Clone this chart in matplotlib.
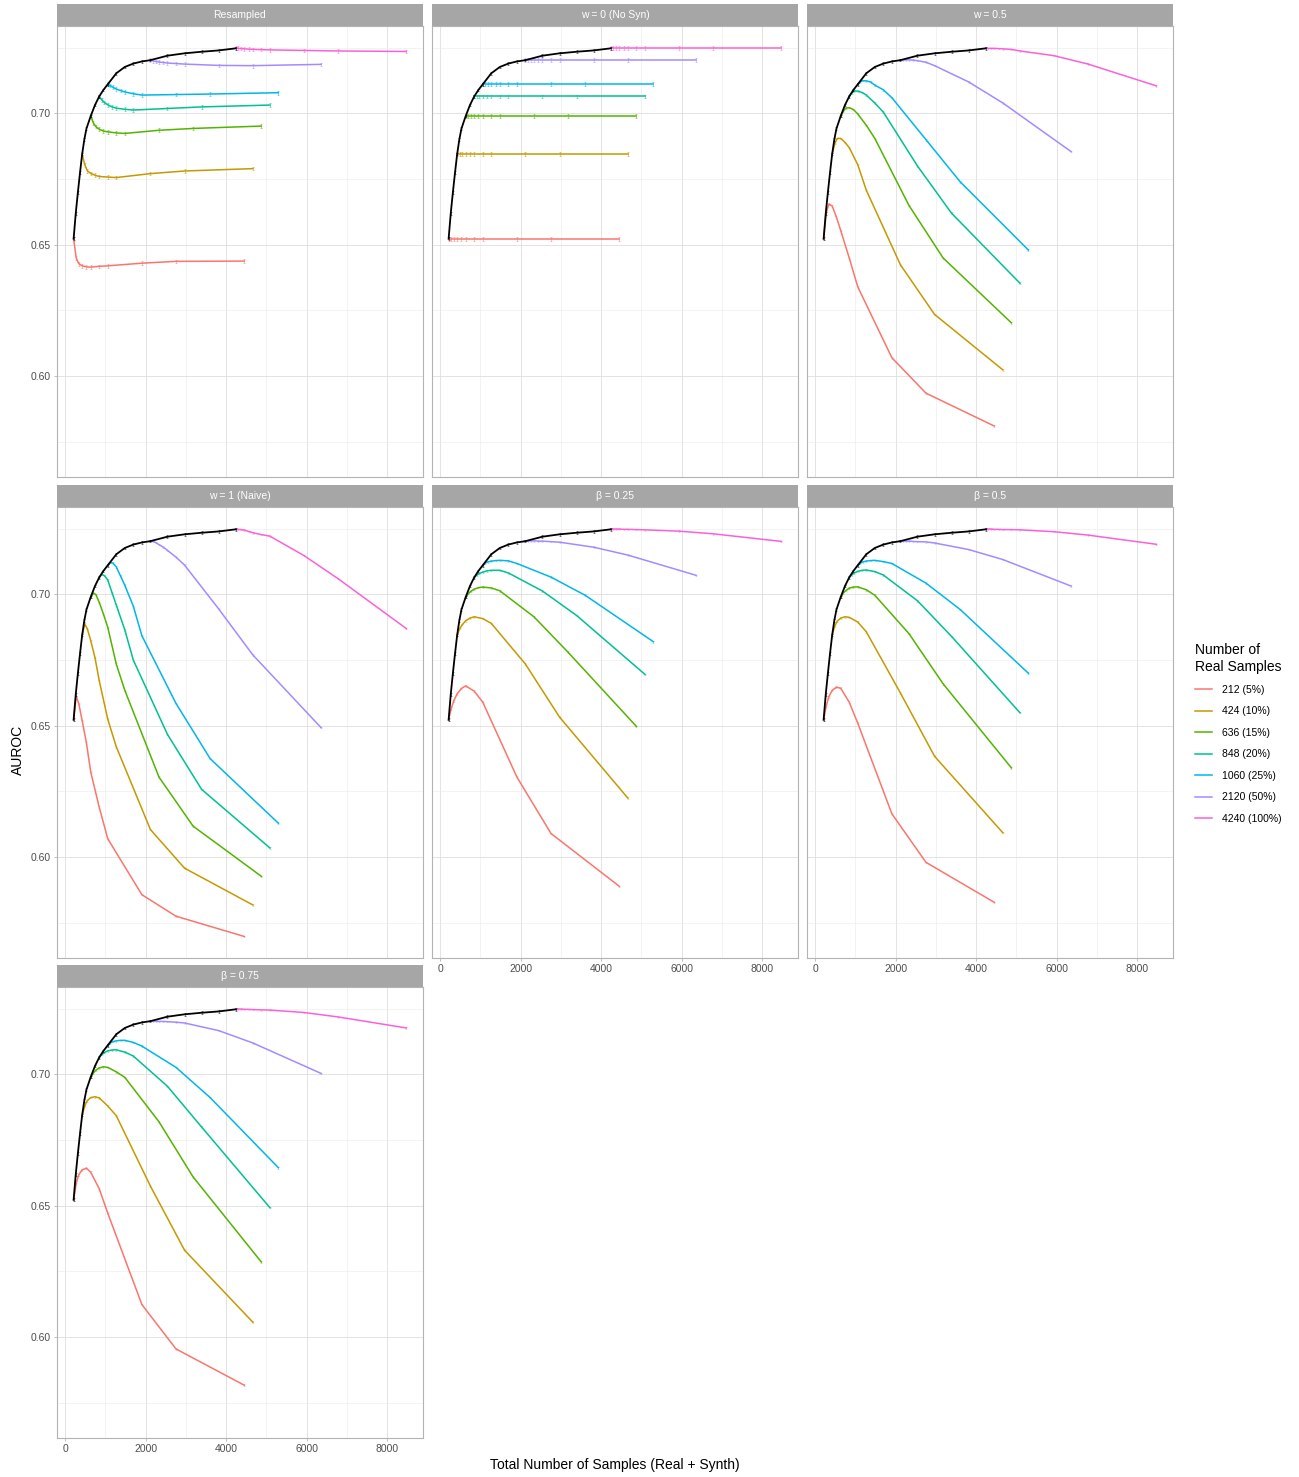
import matplotlib
matplotlib.use("Agg")
import matplotlib.pyplot as plt
from matplotlib.lines import Line2D

plt.rcParams["font.family"] = ["Liberation Sans", "DejaVu Sans"]

# real-sample sizes (one coloured curve each) and legend labels
REAL_N = [212, 424, 636, 848, 1060, 2120, 4240]
LEGEND_LABELS = ["212 (5%)", "424 (10%)", "636 (15%)", "848 (20%)",
                 "1060 (25%)", "2120 (50%)", "4240 (100%)"]
COLORS = ["#F8766D", "#C49A00", "#53B400", "#00C094", "#00B6EB", "#A58AFF", "#FB61D7"]

# synthetic samples added on top of the real ones
SYNTH_N = [0, 64, 127, 212, 318, 424, 636, 848, 1696, 2544, 4240]

# real-only baseline (black curve)
BASE_N = [212, 265, 318, 371, 424, 477, 530, 636, 742, 848, 954, 1060, 1272, 1484,
          1696, 1908, 2120, 2544, 2968, 3392, 3816, 4240]
BASE_AUC = [0.6523, 0.6620, 0.6700, 0.6775, 0.6845, 0.6900, 0.6942, 0.6990, 0.7032,
            0.7065, 0.7090, 0.7111, 0.7153, 0.7177, 0.7190, 0.7198, 0.7203, 0.7220,
            0.7229, 0.7235, 0.7240, 0.7248]

PANEL_TITLES = ["Resampled", "w = 0 (No Syn)", "w = 0.5", "w = 1 (Naive)",
                "β = 0.25", "β = 0.5", "β = 0.75"]

AUC_RESAMPLED = [
    [0.6523, 0.6450, 0.6428, 0.6420, 0.6416, 0.6415, 0.6418, 0.6420, 0.6430, 0.6437, 0.6438],
    [0.6845, 0.6805, 0.6782, 0.6772, 0.6765, 0.6760, 0.6758, 0.6756, 0.6771, 0.6781, 0.6790],
    [0.6990, 0.6965, 0.6950, 0.6940, 0.6933, 0.6930, 0.6926, 0.6924, 0.6936, 0.6943, 0.6952],
    [0.7065, 0.7052, 0.7042, 0.7033, 0.7025, 0.7020, 0.7016, 0.7013, 0.7019, 0.7025, 0.7032],
    [0.7111, 0.7106, 0.7100, 0.7093, 0.7087, 0.7082, 0.7075, 0.7070, 0.7072, 0.7074, 0.7079],
    [0.7203, 0.7200, 0.7198, 0.7196, 0.7194, 0.7192, 0.7190, 0.7188, 0.7183, 0.7182, 0.7187],
    [0.7248, 0.7248, 0.7247, 0.7246, 0.7245, 0.7244, 0.7243, 0.7242, 0.7240, 0.7238, 0.7236],
]
AUC_W0 = [
    [0.6523, 0.6523, 0.6523, 0.6523, 0.6523, 0.6523, 0.6523, 0.6523, 0.6523, 0.6523, 0.6523],
    [0.6845, 0.6845, 0.6845, 0.6845, 0.6845, 0.6845, 0.6845, 0.6845, 0.6845, 0.6845, 0.6845],
    [0.6990, 0.6990, 0.6990, 0.6990, 0.6990, 0.6990, 0.6990, 0.6990, 0.6990, 0.6990, 0.6990],
    [0.7065, 0.7065, 0.7065, 0.7065, 0.7065, 0.7065, 0.7065, 0.7065, 0.7065, 0.7065, 0.7065],
    [0.7111, 0.7111, 0.7111, 0.7111, 0.7111, 0.7111, 0.7111, 0.7111, 0.7111, 0.7111, 0.7111],
    [0.7203, 0.7203, 0.7203, 0.7203, 0.7203, 0.7203, 0.7203, 0.7203, 0.7203, 0.7203, 0.7203],
    [0.7248, 0.7248, 0.7248, 0.7248, 0.7248, 0.7248, 0.7248, 0.7248, 0.7248, 0.7248, 0.7248],
]
AUC_W05 = [
    [0.6523, 0.6620, 0.6655, 0.6648, 0.6605, 0.6555, 0.6450, 0.6340, 0.6070, 0.5935, 0.5810],
    [0.6845, 0.6885, 0.6905, 0.6905, 0.6890, 0.6870, 0.6805, 0.6708, 0.6424, 0.6235, 0.6024],
    [0.6990, 0.7008, 0.7020, 0.7022, 0.7015, 0.6998, 0.6955, 0.6905, 0.6650, 0.6450, 0.6203],
    [0.7065, 0.7078, 0.7086, 0.7085, 0.7080, 0.7070, 0.7040, 0.7005, 0.6800, 0.6620, 0.6354],
    [0.7111, 0.7120, 0.7125, 0.7124, 0.7120, 0.7108, 0.7090, 0.7060, 0.6900, 0.6740, 0.6480],
    [0.7203, 0.7204, 0.7204, 0.7204, 0.7203, 0.7201, 0.7195, 0.7182, 0.7120, 0.7040, 0.6855],
    [0.7248, 0.7248, 0.7248, 0.7248, 0.7247, 0.7246, 0.7244, 0.7238, 0.7220, 0.7188, 0.7105],
]
AUC_W1 = [
    [0.6523, 0.6612, 0.6585, 0.6520, 0.6435, 0.6325, 0.6190, 0.6070, 0.5857, 0.5775, 0.5698],
    [0.6845, 0.6887, 0.6870, 0.6825, 0.6760, 0.6672, 0.6525, 0.6420, 0.6105, 0.5958, 0.5818],
    [0.6990, 0.7005, 0.7000, 0.6970, 0.6925, 0.6875, 0.6735, 0.6635, 0.6305, 0.6118, 0.5927],
    [0.7065, 0.7076, 0.7072, 0.7055, 0.7007, 0.6960, 0.6865, 0.6750, 0.6467, 0.6258, 0.6035],
    [0.7111, 0.7121, 0.7120, 0.7105, 0.7070, 0.7035, 0.6955, 0.6843, 0.6585, 0.6375, 0.6129],
    [0.7203, 0.7202, 0.7198, 0.7190, 0.7180, 0.7168, 0.7142, 0.7112, 0.6945, 0.6770, 0.6493],
    [0.7248, 0.7248, 0.7247, 0.7245, 0.7240, 0.7235, 0.7228, 0.7222, 0.7148, 0.7060, 0.6870],
]
AUC_B025 = [
    [0.6523, 0.6565, 0.6595, 0.6622, 0.6642, 0.6652, 0.6632, 0.6590, 0.6305, 0.6090, 0.5889],
    [0.6845, 0.6870, 0.6885, 0.6900, 0.6910, 0.6915, 0.6908, 0.6890, 0.6735, 0.6533, 0.6225],
    [0.6990, 0.7003, 0.7012, 0.7020, 0.7026, 0.7028, 0.7025, 0.7014, 0.6915, 0.6780, 0.6498],
    [0.7065, 0.7074, 0.7080, 0.7085, 0.7090, 0.7092, 0.7092, 0.7082, 0.7013, 0.6920, 0.6696],
    [0.7111, 0.7120, 0.7124, 0.7127, 0.7129, 0.7130, 0.7128, 0.7118, 0.7066, 0.6997, 0.6820],
    [0.7203, 0.7204, 0.7204, 0.7204, 0.7203, 0.7203, 0.7201, 0.7199, 0.7180, 0.7150, 0.7073],
    [0.7248, 0.7249, 0.7249, 0.7249, 0.7248, 0.7248, 0.7247, 0.7246, 0.7241, 0.7231, 0.7202],
]
AUC_B05 = [
    [0.6523, 0.6575, 0.6610, 0.6635, 0.6647, 0.6643, 0.6590, 0.6510, 0.6165, 0.5980, 0.5828],
    [0.6845, 0.6880, 0.6898, 0.6910, 0.6915, 0.6913, 0.6895, 0.6858, 0.6625, 0.6384, 0.6093],
    [0.6990, 0.7005, 0.7015, 0.7024, 0.7028, 0.7029, 0.7018, 0.6997, 0.6851, 0.6660, 0.6340],
    [0.7065, 0.7075, 0.7082, 0.7088, 0.7092, 0.7093, 0.7087, 0.7074, 0.6976, 0.6840, 0.6550],
    [0.7111, 0.7119, 0.7124, 0.7127, 0.7129, 0.7130, 0.7125, 0.7118, 0.7043, 0.6943, 0.6700],
    [0.7203, 0.7203, 0.7203, 0.7203, 0.7202, 0.7201, 0.7200, 0.7196, 0.7171, 0.7133, 0.7032],
    [0.7248, 0.7249, 0.7249, 0.7248, 0.7248, 0.7247, 0.7247, 0.7246, 0.7239, 0.7226, 0.7191],
]
AUC_B075 = [
    [0.6523, 0.6585, 0.6618, 0.6637, 0.6643, 0.6628, 0.6565, 0.6472, 0.6124, 0.5955, 0.5817],
    [0.6845, 0.6880, 0.6900, 0.6912, 0.6915, 0.6911, 0.6880, 0.6843, 0.6575, 0.6331, 0.6057],
    [0.6990, 0.7005, 0.7016, 0.7025, 0.7029, 0.7027, 0.7010, 0.6989, 0.6820, 0.6610, 0.6286],
    [0.7065, 0.7076, 0.7083, 0.7090, 0.7093, 0.7094, 0.7085, 0.7070, 0.6955, 0.6800, 0.6493],
    [0.7111, 0.7120, 0.7125, 0.7128, 0.7130, 0.7130, 0.7122, 0.7108, 0.7027, 0.6912, 0.6645],
    [0.7203, 0.7203, 0.7203, 0.7202, 0.7202, 0.7201, 0.7199, 0.7196, 0.7167, 0.7120, 0.7004],
    [0.7248, 0.7249, 0.7249, 0.7248, 0.7248, 0.7247, 0.7246, 0.7245, 0.7236, 0.7219, 0.7177],
]
PANEL_AUC = [AUC_RESAMPLED, AUC_W0, AUC_W05, AUC_W1, AUC_B025, AUC_B05, AUC_B075]

# half-width of the error bars per panel
PANEL_ERR = [0.0007, 0.0007, 0.0003, 0.0003, 0.0003, 0.0003, 0.0003]

X_TICKS = [0, 2000, 4000, 6000, 8000]
Y_TICKS = [0.60, 0.65, 0.70]

# layout in pixels
W, H = 1299, 1477
COL_LEFT = [57, 432, 807]
ROW_TOP = [26, 507, 987]
PANEL_W, PANEL_H, STRIP_H = 366, 451, 22
GRID_POS = [(0, 0), (0, 1), (0, 2), (1, 0), (1, 1), (1, 2), (2, 0)]
BOTTOM_AXIS = {(2, 0), (1, 1), (1, 2)}


def px_rect(left, top, width, height):
    return [left / W, 1 - (top + height) / H, width / W, height / H]


def draw_panel(fig, row, col, title, curves, err):
    left, top = COL_LEFT[col], ROW_TOP[row]
    ax = fig.add_axes(px_rect(left, top, PANEL_W, PANEL_H))
    faint = err < 0.0005

    for n_real, color, ys in zip(REAL_N, COLORS, curves):
        xs = [n_real + s for s in SYNTH_N]
        ax.plot(xs, ys, color=color, lw=1.1, zorder=3)
        ax.errorbar(xs, ys, yerr=err, fmt="none", ecolor=color, elinewidth=0.6,
                    capsize=1.0, capthick=0.6, alpha=0.35 if faint else 0.55, zorder=3)
    ax.plot(BASE_N, BASE_AUC, color="black", lw=1.3, zorder=4)
    ax.errorbar(BASE_N, BASE_AUC, yerr=0.0005, fmt="none", ecolor="black", elinewidth=0.6,
                capsize=1.0, capthick=0.6, alpha=0.5, zorder=4)

    ax.set_xlim(-201, 8893)
    ax.set_ylim(0.5616, 0.7333)
    ax.set_xticks(X_TICKS)
    ax.set_xticks([1000, 3000, 5000, 7000], minor=True)
    ax.set_yticks(Y_TICKS)
    ax.set_yticks([0.575, 0.625, 0.675, 0.725], minor=True)
    ax.set_xticklabels([str(t) for t in X_TICKS])
    ax.set_yticklabels([f"{t:.2f}" for t in Y_TICKS])
    ax.grid(which="major", color="#DEDEDE", lw=0.6)
    ax.grid(which="minor", color="#EBEBEB", lw=0.4)
    ax.set_axisbelow(True)
    for sp in ax.spines.values():
        sp.set_color("#B3B3B3")
        sp.set_linewidth(0.8)

    show_x = (row, col) in BOTTOM_AXIS
    show_y = col == 0
    ax.tick_params(which="minor", length=0)
    ax.tick_params(axis="x", which="major", labelsize=7.5, labelcolor="#4D4D4D",
                   color="#B3B3B3", length=2.5 if show_x else 0, width=0.6,
                   pad=2, labelbottom=show_x)
    ax.tick_params(axis="y", which="major", labelsize=7.5, labelcolor="#4D4D4D",
                   color="#B3B3B3", length=2.5 if show_y else 0, width=0.6,
                   pad=2, labelleft=show_y)

    strip = fig.add_axes(px_rect(left, top - STRIP_H, PANEL_W, STRIP_H))
    strip.set_facecolor("#A6A6A6")
    strip.set_xticks([])
    strip.set_yticks([])
    for sp in strip.spines.values():
        sp.set_visible(False)
    strip.text(0.5, 0.5, title, color="white", fontsize=7.5, ha="center", va="center",
               transform=strip.transAxes)
    return ax


def main():
    fig = plt.figure(figsize=(W / 100, H / 100), dpi=100)
    fig.patch.set_facecolor("white")

    for (row, col), title, curves, err in zip(GRID_POS, PANEL_TITLES, PANEL_AUC, PANEL_ERR):
        draw_panel(fig, row, col, title, curves, err)

    fig.text(18 / W, 1 - 750 / H, "AUROC", rotation=90, ha="center", va="center",
             fontsize=10, color="black")
    fig.text(615 / W, 1 - 1465 / H, "Total Number of Samples (Real + Synth)",
             ha="center", va="center", fontsize=10, color="black")

    handles = [Line2D([0], [0], color=c, lw=1.1) for c in COLORS]
    leg = fig.legend(handles, LEGEND_LABELS, title="Number of\nReal Samples",
                     loc="upper left", bbox_to_anchor=(1186 / W, 1 - 634 / H),
                     frameon=False, fontsize=7.5, title_fontsize=10,
                     handlelength=1.6, handletextpad=1.0, labelspacing=1.1,
                     alignment="left")
    for txt in leg.get_texts():
        txt.set_color("black")

    fig.savefig("out.png", dpi=100)
    plt.close(fig)


if __name__ == "__main__":
    main()
